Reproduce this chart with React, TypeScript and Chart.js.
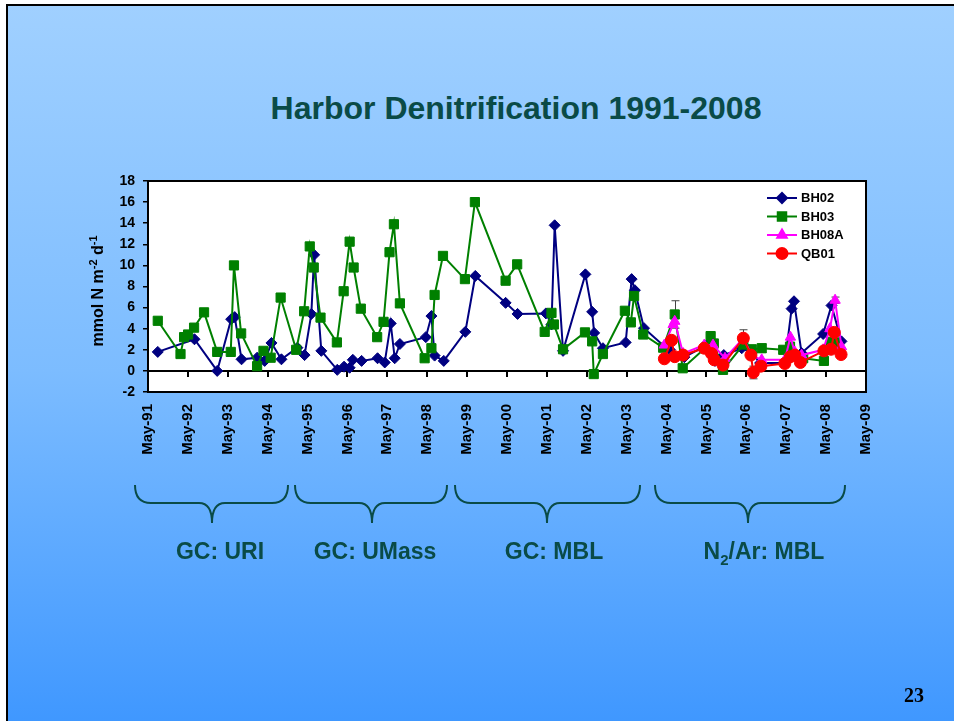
import React, { useEffect, useRef } from "react";
import { Chart, registerables } from "chart.js";
import { drawPoint } from "chart.js/helpers";

Chart.register(...registerables);

// ---------- data ----------
const X_START = 1991.375; // May-91
const TICK_LABELS = [
  "May-91", "May-92", "May-93", "May-94", "May-95", "May-96", "May-97",
  "May-98", "May-99", "May-00", "May-01", "May-02", "May-03", "May-04",
  "May-05", "May-06", "May-07", "May-08", "May-09",
];
const Y_MIN = -2;
const Y_MAX = 18;
const Y_STEP = 2;

const SERIES_NAMES = ["BH02", "BH03", "BH08A", "QB01"];

const BH02_DATE = [
  1991.62, 1992.54, 1993.11, 1993.46, 1993.55, 1993.72, 1994.11, 1994.30, 1994.47,
  1994.72, 1995.12, 1995.30, 1995.47, 1995.54, 1995.72, 1996.12, 1996.29, 1996.43,
  1996.51, 1996.73, 1997.13, 1997.31, 1997.46, 1997.56, 1997.69, 1998.34, 1998.48,
  1998.56, 1998.79, 1999.33, 1999.58, 2000.34, 2000.64, 2001.35, 2001.49, 2001.57,
  2001.78, 2002.34, 2002.51, 2002.56, 2002.78, 2003.35, 2003.50, 2003.58, 2003.81,
  2004.33, 2004.46, 2004.82, 2005.38, 2005.59, 2005.81, 2006.26, 2006.51, 2006.72,
  2007.34, 2007.51, 2007.57, 2007.76, 2008.30, 2008.51, 2008.76,
];
const BH02_VAL = [
  1.8, 3.0, 0.0, 4.9, 5.1, 1.1, 1.25, 0.95, 2.65,
  1.1, 2.2, 1.5, 5.4, 11.0, 1.9, 0.1, 0.4, 0.3,
  1.05, 0.95, 1.2, 0.8, 4.5, 1.2, 2.55, 3.2, 5.2,
  1.45, 0.95, 3.7, 9.0, 6.45, 5.4, 5.45, 4.4, 13.8,
  1.9, 9.15, 5.6, 3.6, 2.15, 2.7, 8.7, 7.65, 4.05,
  2.3, 2.0, 1.3, 2.45, 0.95, 1.5, 2.15, 1.7, 0.75,
  0.75, 5.9, 6.6, 1.7, 3.5, 6.2, 2.8,
];

const BH03_DATE = [
  1991.62, 1992.19, 1992.28, 1992.38, 1992.53, 1992.78, 1993.11, 1993.45, 1993.53,
  1993.71, 1994.11, 1994.27, 1994.45, 1994.70, 1995.09, 1995.29, 1995.43, 1995.53,
  1995.70, 1996.11, 1996.28, 1996.43, 1996.53, 1996.71, 1997.12, 1997.28, 1997.43,
  1997.54, 1997.69, 1998.31, 1998.48, 1998.56, 1998.77, 1999.32, 1999.57, 2000.34,
  2000.63, 2001.32, 2001.49, 2001.55, 2001.78, 2002.33, 2002.51, 2002.55, 2002.78,
  2003.33, 2003.48, 2003.56, 2003.79, 2004.29, 2004.58, 2004.78, 2005.38, 2005.48,
  2005.56, 2005.79, 2006.30, 2006.51, 2006.76, 2007.30, 2007.47, 2007.80, 2008.32,
  2008.50, 2008.60,
];
const BH03_VAL = [
  4.75, 1.6, 3.2, 3.45, 4.1, 5.55, 1.8, 1.8, 10.0,
  3.55, 0.45, 1.9, 1.25, 6.95, 2.0, 5.65, 11.8, 9.8,
  5.05, 2.7, 7.55, 12.25, 9.8, 5.9, 3.2, 4.65, 11.25,
  13.9, 6.4, 1.2, 2.15, 7.2, 10.9, 8.7, 16.0, 8.55,
  10.1, 3.7, 5.5, 4.4, 2.05, 3.65, 2.8, -0.3, 1.6,
  5.7, 4.6, 7.1, 3.45, 2.2, 5.35, 0.25, 2.3, 3.3,
  2.6, 0.1, 2.5, 2.05, 2.15, 2.0, 2.3, 1.2, 0.95,
  2.75, 2.7,
];

const BH08A_DATE = [
  2004.32, 2004.54, 2004.58, 2004.79, 2005.32, 2005.54, 2005.84, 2006.30, 2006.51,
  2006.76, 2007.34, 2007.48, 2007.59, 2007.76, 2008.30, 2008.47, 2008.60, 2008.76,
];
const BH08A_VAL = [
  2.45, 4.4, 4.7, 1.65, 2.45, 2.45, 1.2, 3.1, 1.5,
  1.05, 1.05, 3.2, 1.8, 1.5, 2.0, 4.0, 6.7, 2.3,
];

const QB01_DATE = [
  2004.32, 2004.50, 2004.58, 2004.79, 2005.32, 2005.50, 2005.57, 2005.79, 2006.30,
  2006.49, 2006.55, 2006.74, 2007.34, 2007.48, 2007.59, 2007.73, 2008.32, 2008.50,
  2008.58, 2008.75,
];
const QB01_VAL = [
  1.15, 2.9, 1.35, 1.5, 2.15, 1.65, 1.05, 0.55, 3.1,
  1.5, -0.15, 0.45, 0.7, 1.35, 1.5, 0.8, 1.9, 2.05,
  3.65, 1.55,
];

// error bars: series name, point index, +/- size
const ERR_SERIES = ["BH03", "QB01", "QB01", "BH03", "BH08A"];
const ERR_INDEX = [50, 8, 10, 58, 16];
const ERR_SIZE = [1.3, 0.8, 0.6, 0.4, 0.3];

const GROUP_LABELS = ["GC: URI", "GC: UMass", "GC: MBL"];

// ---------- styling ----------
const FONT = "'Liberation Sans', Arial, Helvetica, sans-serif";
const TEAL = "#0a4b47";
const COLORS = ["#000080", "#008000", "#ff00ff", "#ff0000"];
const STYLES = ["rectRot", "rect", "triangle", "circle"];
const RADII = [5.5, 6.5, 6, 6];

function zip(xs: number[], ys: number[]) {
  return xs.map((x, i) => ({ x, y: ys[i] }));
}

const plotPlugin = {
  id: "plotDecor",
  beforeDraw(chart: any) {
    const { ctx, chartArea: a } = chart;
    ctx.save();
    ctx.fillStyle = "#ffffff";
    ctx.fillRect(a.left, a.top, a.right - a.left, a.bottom - a.top);
    ctx.restore();
  },
  beforeDatasetsDraw(chart: any) {
    const { ctx, chartArea: a, scales } = chart;
    const x = scales.x;
    const y = scales.y;
    ctx.save();
    // zero line with ticks
    const y0 = Math.round(y.getPixelForValue(0));
    ctx.strokeStyle = "#000";
    ctx.lineWidth = 2;
    ctx.beginPath();
    ctx.moveTo(a.left, y0);
    ctx.lineTo(a.right, y0);
    TICK_LABELS.forEach((_, i) => {
      const px = Math.round(x.getPixelForValue(X_START + i));
      ctx.moveTo(px, y0);
      ctx.lineTo(px, y0 + 6);
    });
    ctx.stroke();
    // frame
    ctx.lineWidth = 2;
    ctx.strokeRect(a.left, a.top, a.right - a.left, a.bottom - a.top);
    // error bars
    ctx.strokeStyle = "#444";
    ctx.lineWidth = 1;
    ERR_SERIES.forEach((name, k) => {
      const ds = chart.data.datasets[SERIES_NAMES.indexOf(name)];
      const pt = ds.data[ERR_INDEX[k]];
      const px = Math.round(x.getPixelForValue(pt.x)) + 0.5;
      const top = y.getPixelForValue(pt.y + ERR_SIZE[k]);
      const bot = y.getPixelForValue(pt.y - ERR_SIZE[k]);
      ctx.beginPath();
      ctx.moveTo(px, top);
      ctx.lineTo(px, bot);
      ctx.moveTo(px - 4, top);
      ctx.lineTo(px + 4, top);
      ctx.moveTo(px - 4, bot);
      ctx.lineTo(px + 4, bot);
      ctx.stroke();
    });
    ctx.restore();
  },
  afterDraw(chart: any) {
    const { ctx, chartArea: a } = chart;
    ctx.save();
    const lx = a.right - 99;
    SERIES_NAMES.forEach((name, i) => {
      const yy = a.top + 17 + i * 18.5;
      ctx.strokeStyle = COLORS[i];
      ctx.fillStyle = COLORS[i];
      ctx.lineWidth = 2;
      ctx.beginPath();
      ctx.moveTo(lx, yy);
      ctx.lineTo(lx + 30, yy);
      ctx.stroke();
      drawPoint(ctx, { pointStyle: STYLES[i], radius: RADII[i] - 0.5, rotation: 0, borderWidth: 1 } as any, lx + 15, yy);
      ctx.fillStyle = "#000";
      ctx.font = `bold 13px ${FONT}`;
      ctx.textBaseline = "middle";
      ctx.textAlign = "left";
      ctx.fillText(name, lx + 34, yy + 0.5);
    });
    ctx.restore();
  },
};

function Brace({ x1, x2, xm }: { x1: number; x2: number; xm: number }) {
  const top = 485;
  const mid = 503;
  const tip = 523;
  const d = `M ${x1} ${top} Q ${x1} ${mid} ${x1 + 16} ${mid} L ${xm - 13} ${mid} Q ${xm} ${mid} ${xm} ${tip} Q ${xm} ${mid} ${xm + 13} ${mid} L ${x2 - 16} ${mid} Q ${x2} ${mid} ${x2} ${top}`;
  return <path d={d} fill="none" stroke={TEAL} strokeWidth={2} />;
}

export default function App() {
  const canvasRef = useRef<HTMLCanvasElement | null>(null);

  useEffect(() => {
    if (!canvasRef.current) return;
    const datasets = [
      zip(BH02_DATE, BH02_VAL),
      zip(BH03_DATE, BH03_VAL),
      zip(BH08A_DATE, BH08A_VAL),
      zip(QB01_DATE, QB01_VAL),
    ].map((data, i) => ({
      label: SERIES_NAMES[i],
      data,
      order: 3 - i,
      borderColor: COLORS[i],
      backgroundColor: COLORS[i],
      borderWidth: 2,
      pointStyle: STYLES[i],
      pointRadius: RADII[i],
      pointBorderWidth: 1,
      pointBorderColor: COLORS[i],
      pointBackgroundColor: COLORS[i],
      tension: 0,
      clip: 8,
    }));

    const chart = new Chart(canvasRef.current, {
      type: "line",
      data: { datasets },
      options: {
        animation: false,
        responsive: false,
        devicePixelRatio: 1,
        layout: { padding: { left: 108, top: 181, right: 88, bottom: 249 } },
        plugins: {
          legend: { display: false },
          tooltip: { enabled: false },
        },
        scales: {
          x: {
            type: "linear",
            min: X_START,
            max: X_START + TICK_LABELS.length - 1,
            afterBuildTicks: (scale: any) => {
              scale.ticks = TICK_LABELS.map((_, i) => ({ value: X_START + i }));
            },
            afterFit: (scale: any) => {
              scale.height = 80;
            },
            grid: { display: false, drawTicks: false },
            border: { display: false },
            ticks: {
              autoSkip: false,
              minRotation: 90,
              maxRotation: 90,
              padding: 12,
              color: "#000",
              font: { family: FONT, size: 15, weight: "bold" },
              callback: (_v: any, i: number) => TICK_LABELS[i],
            },
          },
          y: {
            type: "linear",
            min: Y_MIN,
            max: Y_MAX,
            afterFit: (scale: any) => {
              scale.width = 40;
            },
            grid: {
              display: true,
              drawOnChartArea: false,
              drawTicks: true,
              tickLength: 5,
              color: "#000",
              lineWidth: 1.5,
            },
            border: { display: false },
            ticks: {
              stepSize: Y_STEP,
              padding: 8,
              color: "#000",
              font: { family: FONT, size: 14, weight: "bold" },
            },
          },
        },
      },
      plugins: [plotPlugin],
    } as any);
    return () => chart.destroy();
  }, []);

  const textStyle: React.CSSProperties = {
    position: "absolute",
    fontFamily: FONT,
    fontWeight: "bold",
    color: TEAL,
    lineHeight: 1,
    whiteSpace: "nowrap",
    transform: "translateX(-50%)",
  };

  return (
    <div
      style={{
        position: "fixed",
        left: 0,
        top: 0,
        width: 954,
        height: 721,
        overflow: "hidden",
        background: "#ffffff",
      }}
    >
      <div
        style={{
          position: "absolute",
          left: 6,
          top: 4,
          width: 960,
          height: 730,
          borderTop: "2px solid #000",
          borderLeft: "2px solid #000",
          background: "linear-gradient(to bottom, #a0d0ff 0%, #7cbcff 50%, #3d96ff 100%)",
        }}
      />
      <div style={{ ...textStyle, left: 516, top: 92, fontSize: 32 }}>
        Harbor Denitrification 1991-2008
      </div>
      <canvas
        ref={canvasRef}
        width={954}
        height={721}
        style={{ position: "absolute", left: 0, top: 0, width: 954, height: 721 }}
      />
      <div
        style={{
          position: "absolute",
          left: 97,
          top: 291,
          transform: "translate(-50%, -50%) rotate(-90deg)",
          fontFamily: FONT,
          fontWeight: "bold",
          fontSize: 16,
          color: "#000",
          whiteSpace: "nowrap",
          lineHeight: 1,
        }}
      >
        mmol N m<sup style={{ fontSize: 11 }}>-2</sup> d<sup style={{ fontSize: 11 }}>-1</sup>
      </div>
      <svg
        width={954}
        height={721}
        style={{ position: "absolute", left: 0, top: 0, pointerEvents: "none" }}
      >
        <Brace x1={135} x2={288} xm={212} />
        <Brace x1={295} x2={447} xm={372} />
        <Brace x1={455} x2={640} xm={547} />
        <Brace x1={655} x2={845} xm={748} />
      </svg>
      <div style={{ ...textStyle, left: 220, top: 540, fontSize: 23 }}>{GROUP_LABELS[0]}</div>
      <div style={{ ...textStyle, left: 375, top: 540, fontSize: 23 }}>{GROUP_LABELS[1]}</div>
      <div style={{ ...textStyle, left: 554, top: 540, fontSize: 23 }}>{GROUP_LABELS[2]}</div>
      <div style={{ ...textStyle, left: 764, top: 540, fontSize: 23 }}>
        N<sub style={{ fontSize: 15, verticalAlign: "-6px" }}>2</sub>/Ar: MBL
      </div>
      <div
        style={{
          position: "absolute",
          left: 914,
          top: 685,
          transform: "translateX(-50%)",
          fontFamily: "'Liberation Serif', 'Times New Roman', serif",
          fontWeight: "bold",
          fontSize: 20,
          color: "#000",
          lineHeight: 1,
        }}
      >
        23
      </div>
    </div>
  );
}
